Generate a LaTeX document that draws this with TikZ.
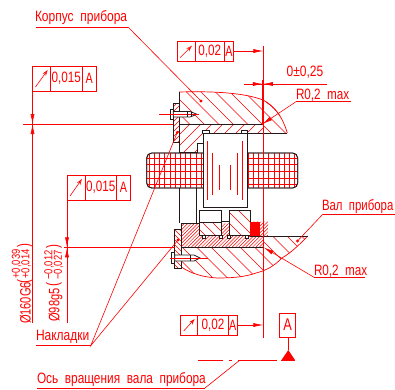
\documentclass[tikz,border=0pt]{standalone}
\usepackage{fontspec}
\setmainfont{Liberation Sans}
\usetikzlibrary{arrows.meta,calc}
\definecolor{cr}{RGB}{255,0,0}
\definecolor{ink}{RGB}{35,25,25}
\newcommand{\hatchfill}[3]{%
  \begin{scope}
    \clip #1;
    \pgfmathtruncatemacro\hn{1300/#2}%
    \foreach \k in {0,...,\hn}{%
      \pgfmathsetmacro\hx{-500+\k*#2}%
      \ifnum#3>0 \draw[hl] (\hx,0) -- ++(420,420);
      \else \draw[hl] (\hx,0) -- ++(-420,420);\fi}
  \end{scope}}
\newcommand{\fcf}[9]{%
  \draw[redbox] (#1,#5) rectangle (#4,#6);
  \draw[redbox] (#2,#5) -- (#2,#6) (#3,#5) -- (#3,#6);
  \draw[redthin,-{Stealth[length=6pt,width=4pt,open]}] ($(#1,#6)+(3,-4)$) -- ($(#2,#5)+(-3,4)$);
  \node[cad,font=\fontsize{#8}{#8}\selectfont] (#9v) at ({(#2+#3)/2},{(#5+#6)/2}) {#7};
  \node[cad,font=\fontsize{#8}{#8}\selectfont] (#9a) at ({(#3+#4)/2},{(#5+#6)/2}) {\scalebox{0.72}[1]{A}};
}
\tikzset{
  hl/.style={cr,line width=0.5pt},
  redthin/.style={cr,line width=0.6pt},
  redbox/.style={cr,line width=0.7pt},
  outl/.style={ink,line width=0.8pt},
  cad/.style={cr,inner sep=0pt,outer sep=0pt},
  tiph/.style={-{Latex[length=10pt,width=4pt]}},
}
\begin{document}
\begin{tikzpicture}[x=1pt,y=-1pt,line join=miter]
\useasboundingbox[fill=white] (0,0) rectangle (395,389);
% wheel
\draw[outl,fill=white,rounded corners=5pt] (146.7,153) rectangle (297.7,188);
\begin{scope}
  \clip[rounded corners=5pt] (146.7,153) rectangle (297.7,188);
  \foreach \k in {0,...,29}{\draw[hl] ({149+5.2*\k},153) -- ({149+5.2*\k},188);}
  \foreach \k in {0,...,4}{\draw[hl] (146,{158+6.6*\k}) -- (298,{158+6.6*\k});}
\end{scope}
\draw[outl,rounded corners=5pt] (146.7,153) rectangle (297.7,188);
% housing hatch
\hatchfill{(179,92) .. controls (215,91) and (245,93) .. (263,100) .. controls (275,106) and (283,118) .. (287.3,133) -- (263,133) -- (263,124) -- (179,124) -- cycle}{14.5}{1}
\hatchfill{(179,124) -- (263,124) -- (263,133) -- (203,133) -- (203,143) -- (197,143) -- (197,152) -- (179,152) -- cycle}{11}{-1}
\draw[cr,line width=0.7pt] (179,92) .. controls (215,91) and (245,93) .. (263,100) .. controls (275,106) and (283,118) .. (287.3,133);
\draw[cr,line width=0.6pt] (266,102) .. controls (272,106) and (277,111) .. (280,116);
\draw[outl] (179,152) -- (179,92);
\draw[outl] (179,124) -- (263,124) -- (263,133);
\draw[outl] (203,133) -- (287.3,133);
\draw[outl] (203,133) -- (203,143) -- (197,143) -- (197,152) -- (179,152);
% sleeve
\draw[outl,fill=white] (203,133) rectangle (247.7,207.7);
\draw[outl,fill=white] (202.7,130) rectangle (209.3,133);
\draw[outl,fill=white] (241.3,130) rectangle (247.7,133);
\foreach \xa/\ya/\yb in {207/141/200,212.7/153/195,219/165/190,230.7/165/190,237.5/153/195,242.5/141/200}
  {\draw[cr,line width=0.7pt] (\xa,\ya) -- (\xa,\yb);}
% housing walls
\draw[outl] (179,188) -- (179,223.3) (196.7,188) -- (196.7,223.3);
% top plate and screw
\hatchfill{(173.3,103.3) rectangle (179.3,142.3)}{5}{-1}
\draw[outl] (173.3,103.3) rectangle (179.3,142.3);
\draw[outl,fill=white] (170,109.5) rectangle (173.3,119);
\draw[outl,fill=white] (173.3,111.5) -- (190,111.5) -- (197,114.3) -- (190,117) -- (173.3,117) -- cycle;
\draw[redthin] (159,114.3) -- (199,114.3);
\draw[outl] (187,111.5) -- (187,117) (191,111.5) -- (191,117);
% lower shaft
\hatchfill{(181.3,247.3) -- (263.3,247.3) -- (263.3,236) -- (307.7,236) .. controls (300,244) and (292,252) .. (282,258) .. controls (275,265) and (268,270) .. (256,273) .. controls (245,277) and (232,278) .. (217,278) .. controls (203,277) and (192,274) .. (181.3,267) -- cycle}{14.5}{1}
\draw[cr,line width=0.7pt] (307.7,236) .. controls (300,244) and (292,252) .. (282,258) .. controls (275,265) and (268,270) .. (256,273) .. controls (245,277) and (232,278) .. (217,278) .. controls (203,277) and (192,274) .. (181.3,267);
\draw[outl] (263.3,236) -- (307.7,236);
% dense shaft block
\hatchfill{(181.3,223.3) -- (243,223.3) -- (243,221.7) -- (268,221.7) -- (268,236) -- (263.3,236) -- (263.3,247.3) -- (181.3,247.3) -- cycle}{3.4}{-1}
\draw[outl] (181.3,247.3) -- (181.3,223.3) -- (199.3,223.3);
\draw[outl] (221,221.7) -- (229.3,221.7);
\draw[outl] (181.3,247.3) -- (263.3,247.3) -- (263.3,236);
\draw[outl] (250,236) -- (263.3,236);
% rings
\draw[outl,fill=white] (199.3,210.3) rectangle (221,235.7);
\hatchfill{(199.3,222.3) rectangle (221,235.7)}{10}{1}
\draw[outl] (199.3,210.3) rectangle (221,235.7) (199.3,222.3) -- (221,222.3);
\draw[outl,fill=white] (229.3,210.3) rectangle (250.3,235.7);
\hatchfill{(229.3,210.3) rectangle (250.3,235.7)}{11}{1}
\draw[outl] (229.3,210.3) rectangle (250.3,235.7);
\fill[cr] (250.3,221.7) rectangle (260.3,236);
\foreach \xa in {202,219.5,227.5,245}
  {\draw[ink,fill=white,line width=0.5pt] (\xa,235.7) rectangle ++(3,2.6);}
% lower plate and screw
\hatchfill{(174.7,229) rectangle (181.3,268.5)}{5}{1}
\draw[outl] (174.7,229) rectangle (181.3,268.5);
\draw[outl,fill=white] (171.7,252.5) rectangle (174.7,263);
\draw[outl,fill=white] (174.7,255) -- (194,255) -- (200,258) -- (194,261) -- (174.7,261) -- cycle;
\draw[redthin] (170,258) -- (208,258);
\draw[outl] (190,255) -- (190,261);
% axis-of-part line
\coordinate (axT) at (263.3,46);
\coordinate (axB) at (263.3,338);
\draw[redthin] (axT) -- (axB);
\draw[cr,line width=1.3pt] (262.8,80) -- (262.8,125);
% dimension 0+-0.25
\coordinate (dL) at (244,84); \coordinate (dR) at (326.7,84); \coordinate (dM) at (262.8,84);
\draw[redthin] (dL) -- (dR);
\draw[cr,line width=0.6pt,tiph] (252,84) -- (dM);
\draw[cr,line width=0.6pt,tiph] (273,84) -- (dM);
\node[cad,font=\fontsize{15}{15}\selectfont] (dtxt) at (305,72.5) {\scalebox{0.8}[1]{0±0,25}};
% FCFs
\fcf{32.5}{50.7}{82}{96.5}{66}{91}{\scalebox{0.78}[1]{0,015}}{15}{fa}
\fcf{67}{85}{116.7}{130.3}{175}{200}{\scalebox{0.78}[1]{0,015}}{15}{fb}
\fcf{177}{195}{224.3}{233.7}{41.7}{61.7}{\scalebox{0.78}[1]{0,02}}{15}{fc}
\fcf{180.7}{197.7}{228.3}{237.3}{315}{335}{\scalebox{0.78}[1]{0,02}}{15}{fd}
\coordinate (fcR) at (233.7,51); \coordinate (fcT) at (263.3,51);
\draw[redthin,tiph] (fcR) -- (fcT);
\coordinate (fdR) at (237.3,325); \coordinate (fdT) at (263.3,325);
\draw[redthin,tiph] (fdR) -- (fdT);
% diameters
\coordinate (da1) at (32.5,91); \coordinate (da2) at (32.5,323); \coordinate (dac) at (32.5,124);
\draw[cr,line width=0.7pt] (da1) -- (da2);
\coordinate (dh1) at (23,124); \coordinate (dh2) at (173.3,124);
\draw[cr,line width=0.7pt] (dh1) -- (dh2);
\draw[cr,line width=0.6pt,tiph] (32.5,114) -- (dac);
\draw[cr,line width=0.6pt,tiph] (32.5,134) -- (dac);
\coordinate (db1) at (67,200); \coordinate (db2) at (67,323); \coordinate (dbc) at (67,247.3);
\draw[cr,line width=0.7pt] (db1) -- (db2);
\coordinate (dh3) at (64,247.3); \coordinate (dh4) at (175,247.3);
\draw[cr,line width=0.7pt] (dh3) -- (dh4);
\draw[cr,line width=0.6pt,tiph] (67,237) -- (dbc);
\draw[cr,line width=0.6pt,tiph] (67,257) -- (dbc);
\node[cad,rotate=90,font=\fontsize{15}{15}\selectfont] (t160) at (25.5,303) {\scalebox{0.74}[1]{Ø160G6}};
\node[cad,rotate=90,font=\fontsize{17}{17}\selectfont] (p1a) at (25,281.5) {\scalebox{0.7}[1]{(}};
\node[cad,rotate=90,font=\fontsize{17}{17}\selectfont] (p1b) at (25,245.5) {\scalebox{0.7}[1]{)}};
\node[cad,rotate=90,font=\fontsize{11.5}{11.5}\selectfont] (s1a) at (16.5,264) {\scalebox{0.82}[1]{+0,039}};
\node[cad,rotate=90,font=\fontsize{11.5}{11.5}\selectfont] (s1b) at (26,264) {\scalebox{0.82}[1]{+0,014}};
\node[cad,rotate=90,font=\fontsize{15}{15}\selectfont] (t98) at (55.5,305) {\scalebox{0.74}[1]{Ø98g5}};
\node[cad,rotate=90,font=\fontsize{17}{17}\selectfont] (p2a) at (54,285) {\scalebox{0.7}[1]{(}};
\node[cad,rotate=90,font=\fontsize{17}{17}\selectfont] (p2b) at (54,246.5) {\scalebox{0.7}[1]{)}};
\node[cad,rotate=90,font=\fontsize{11.5}{11.5}\selectfont] (s2a) at (49,265) {\scalebox{0.82}[1]{−0,012}};
\node[cad,rotate=90,font=\fontsize{11.5}{11.5}\selectfont] (s2b) at (58.5,265) {\scalebox{0.82}[1]{−0,027}};
% labels
\node[cad,anchor=west,font=\fontsize{15}{15}\selectfont] (korp) at (35,18) {\scalebox{0.8}[1]{Корпус\ \ прибора}};
\coordinate (kA) at (36,27); \coordinate (kB) at (128,27); \coordinate (kC) at (201,101);
\draw[cr,line width=0.8pt] (kA) -- (kB);
\draw[redthin] (kB) -- (kC);
\fill[cr] (kC) circle (1.6);
\node[cad,anchor=west,font=\fontsize{15}{15}\selectfont] (rtop) at (296,95.5) {\scalebox{0.78}[1]{R0,2\ \ max}};
\coordinate (rA) at (351,101.7); \coordinate (rB) at (296,101.7); \coordinate (rC) at (262.5,124);
\draw[cr,line width=0.8pt] (rA) -- (rB);
\draw[redthin,-{Latex[length=10pt,width=4pt]}] (rB) -- (rC);
\node[cad,anchor=west,font=\fontsize{15}{15}\selectfont] (val) at (322,206.5) {\scalebox{0.76}[1]{Вал\ \ прибора}};
\coordinate (vA) at (395,214); \coordinate (vB) at (323,214); \coordinate (vC) at (297.5,241);
\draw[cr,line width=0.8pt] (vA) -- (vB);
\draw[redthin] (vB) -- (vC);
\fill[cr] (vC) circle (1.6);
\node[cad,anchor=west,font=\fontsize{15}{15}\selectfont] (rbot) at (314,271) {\scalebox{0.78}[1]{R0,2\ \ max}};
\coordinate (sA) at (365,277.3); \coordinate (sB) at (314,277.3); \coordinate (sC) at (263.8,247.5);
\draw[cr,line width=0.8pt] (sA) -- (sB);
\draw[redthin,-{Latex[length=10pt,width=4pt]}] (sB) -- (sC);
\node[cad,anchor=west,font=\fontsize{15}{15}\selectfont] (nakl) at (36,336.5) {\scalebox{0.8}[1]{Накладки}};
\coordinate (nA) at (36,345.7); \coordinate (nB) at (90.7,345.7); \coordinate (nC) at (177.3,132.3); \coordinate (nD) at (178,240);
\draw[cr,line width=0.8pt] (nA) -- (nB);
\draw[redthin] (nC) -- (nB) -- (nD);
\fill[cr] (nC) circle (1.6) (nD) circle (1.6);
\node[cad,anchor=west,font=\fontsize{15}{15}\selectfont] (osj) at (37,380) {\scalebox{0.79}[1]{Ось\ \ вращения\ \ вала\ \ прибора}};
\coordinate (oA) at (37,388); \coordinate (oB) at (205,388); \coordinate (oC) at (240,360);
\draw[cr,line width=0.8pt] (oA) -- (oB);
\draw[redthin] (oB) -- (oC);
% datum
\coordinate (cL) at (198,360); \coordinate (cR) at (295,360);
\draw[cr,line width=0.7pt,dash pattern=on 25pt off 6pt on 3pt off 6pt on 200pt] (cL) -- (277,360);
\draw[cr,line width=0.7pt] (281,360) -- (cR);
\fill[cr] (288.3,350) -- (295,360) -- (281.5,360) -- cycle;
\node[cad,draw=cr,line width=0.8pt,minimum width=16.4pt,minimum height=24pt,font=\fontsize{17}{17}\selectfont] (datA) at (287.5,325) {\scalebox{0.75}[1]{A}};
\coordinate (datT) at (288.3,350);
\draw[redthin] (datA.south -| datT) -- (datT);
\end{tikzpicture}
\end{document}
